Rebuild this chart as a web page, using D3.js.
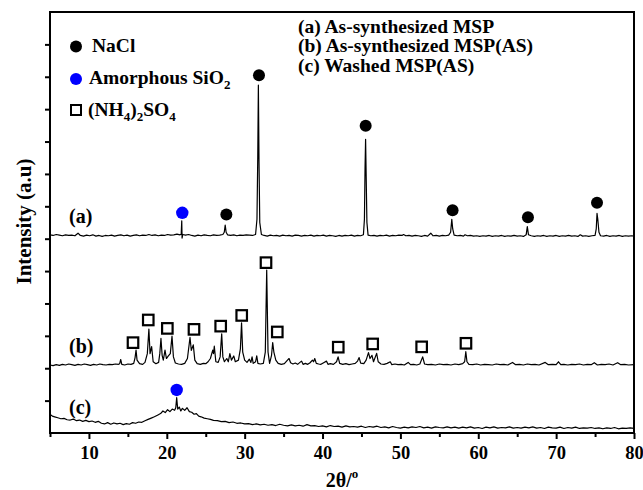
<!DOCTYPE html>
<html><head><meta charset="utf-8">
<script src="https://cdn.jsdelivr.net/npm/d3@7"></script>
<style>body{margin:0;background:#fff}svg text{font-family:"Liberation Serif","Times New Roman",serif;font-weight:bold;fill:#000}</style>
</head><body><svg id="chart" width="643" height="490"></svg>
<script>
// ---------- DATA ----------
const xMajorTicks = [10, 20, 30, 40, 50, 60, 70, 80];
const xMinorTicks = [5, 15, 25, 35, 45, 55, 65, 75];
const yTicks = [1, 2, 3, 4, 5, 6, 7, 8, 9, 10, 11, 12];
const seriesLabels = ["(a)", "(b)", "(c)"];
const sampleNames = ["(a) As-synthesized MSP", "(b) As-synthesized MSP(AS)", "(c) Washed MSP(AS)"];

// (2theta, stacked intensity)
const traceA = [[5.0,6.12],[5.4,6.10],[5.8,6.13],[6.2,6.11],[6.6,6.09],[7.0,6.12],[7.4,6.10],[7.8,6.11],[8.2,6.09],[8.6,6.17],[8.9,6.10],[9.3,6.08],[9.7,6.11],[10.1,6.09],[10.5,6.12],[10.9,6.08],[11.3,6.10],[11.7,6.07],[12.1,6.10],[12.5,6.09],[12.9,6.11],[13.3,6.08],[13.7,6.10],[14.1,6.12],[14.5,6.09],[14.9,6.11],[15.3,6.08],[15.7,6.10],[16.1,6.12],[16.5,6.09],[16.9,6.11],[17.3,6.10],[17.7,6.13],[18.1,6.10],[18.5,6.12],[18.9,6.09],[19.3,6.11],[19.7,6.10],[20.1,6.13],[20.5,6.11],[20.9,6.12],[21.3,6.14],[21.7,6.12],[21.85,6.14],[21.92,6.55],[21.96,6.02],[22.05,6.13],[22.4,6.11],[22.8,6.13],[23.2,6.10],[23.6,6.08],[24.0,6.11],[24.4,6.09],[24.8,6.12],[25.2,6.10],[25.6,6.09],[26.0,6.12],[26.4,6.10],[26.8,6.11],[27.2,6.13],[27.38,6.2],[27.5,6.42],[27.62,6.2],[27.8,6.12],[28.2,6.10],[28.6,6.12],[29.0,6.09],[29.4,6.11],[29.8,6.10],[30.2,6.12],[30.6,6.11],[31.0,6.10],[31.4,6.13],[31.58,6.6],[31.68,8.5],[31.76,10.74],[31.84,8.4],[31.94,6.5],[32.15,6.13],[32.5,6.10],[32.9,6.08],[33.3,6.11],[33.7,6.09],[34.1,6.10],[34.5,6.08],[34.9,6.11],[35.3,6.09],[35.7,6.10],[36.1,6.08],[36.5,6.11],[36.9,6.10],[37.3,6.08],[37.7,6.10],[38.1,6.09],[38.5,6.11],[38.9,6.08],[39.3,6.10],[39.7,6.09],[40.1,6.11],[40.5,6.08],[40.9,6.10],[41.3,6.09],[41.7,6.07],[42.1,6.10],[42.5,6.08],[42.9,6.10],[43.3,6.09],[43.7,6.11],[44.1,6.08],[44.5,6.10],[44.9,6.09],[45.25,6.12],[45.38,6.6],[45.46,8.2],[45.53,9.07],[45.6,8.0],[45.7,6.5],[45.85,6.11],[46.2,6.09],[46.6,6.10],[47.0,6.08],[47.4,6.10],[47.8,6.09],[48.2,6.11],[48.6,6.08],[49.0,6.10],[49.4,6.09],[49.8,6.11],[50.2,6.10],[50.4,6.13],[50.7,6.09],[51.1,6.10],[51.5,6.08],[51.9,6.10],[52.3,6.09],[52.7,6.07],[53.1,6.10],[53.5,6.08],[53.9,6.17],[54.2,6.09],[54.6,6.10],[55.0,6.08],[55.4,6.10],[55.8,6.09],[56.2,6.11],[56.45,6.2],[56.6,6.6],[56.72,6.3],[56.9,6.11],[57.3,6.09],[57.7,6.10],[58.1,6.08],[58.3,6.12],[58.6,6.09],[59.0,6.10],[59.4,6.08],[59.8,6.09],[60.2,6.07],[60.6,6.09],[61.0,6.08],[61.4,6.10],[61.8,6.07],[62.2,6.09],[62.6,6.08],[63.0,6.10],[63.4,6.07],[63.8,6.09],[64.2,6.08],[64.6,6.10],[65.0,6.08],[65.4,6.09],[65.8,6.07],[66.15,6.12],[66.3,6.37],[66.45,6.12],[66.8,6.09],[67.2,6.07],[67.6,6.09],[68.0,6.08],[68.4,6.10],[68.8,6.07],[69.2,6.09],[69.6,6.08],[70.0,6.10],[70.4,6.07],[70.8,6.09],[71.2,6.08],[71.6,6.10],[72.0,6.08],[72.4,6.09],[72.8,6.07],[73.1,6.12],[73.4,6.08],[73.8,6.09],[74.2,6.07],[74.6,6.09],[75.0,6.10],[75.15,6.3],[75.25,6.78],[75.35,6.6],[75.5,6.2],[75.7,6.09],[76.1,6.08],[76.5,6.10],[76.9,6.07],[77.3,6.09],[77.7,6.08],[78.1,6.10],[78.5,6.07],[78.9,6.09],[79.3,6.08],[79.7,6.09],[80.0,6.08]];

const traceB = [[5.0,2.10],[5.4,2.08],[5.8,2.11],[6.2,2.09],[6.6,2.12],[7.0,2.10],[7.4,2.13],[7.8,2.11],[8.2,2.09],[8.6,2.12],[9.0,2.10],[9.4,2.13],[9.8,2.11],[10.2,2.09],[10.6,2.12],[11.0,2.10],[11.4,2.13],[11.8,2.11],[12.2,2.10],[12.6,2.12],[13.0,2.11],[13.4,2.13],[13.8,2.12],[13.95,2.14],[14.08,2.27],[14.22,2.12],[14.6,2.10],[15.0,2.13],[15.4,2.12],[15.75,2.15],[15.92,2.32],[16.05,2.56],[16.18,2.25],[16.5,2.14],[16.9,2.12],[17.2,2.18],[17.5,2.45],[17.7,3.21],[17.85,2.45],[18.05,2.67],[18.25,2.2],[18.6,2.14],[18.95,2.18],[19.1,2.45],[19.25,2.92],[19.4,2.4],[19.55,2.25],[19.77,2.56],[19.95,2.30],[20.2,2.38],[20.45,2.45],[20.67,2.99],[20.85,2.35],[21.1,2.16],[21.5,2.13],[21.9,2.12],[22.3,2.15],[22.65,2.3],[22.98,2.95],[23.15,2.55],[23.4,2.72],[23.6,2.25],[23.9,2.14],[24.3,2.12],[24.7,2.15],[25.0,2.14],[25.3,2.2],[25.6,2.3],[25.9,2.56],[26.0,2.45],[26.1,2.68],[26.3,2.2],[26.6,2.18],[26.85,2.35],[27.05,3.06],[27.2,2.35],[27.4,2.2],[27.7,2.3],[27.9,2.2],[28.1,2.45],[28.3,2.25],[28.6,2.38],[28.8,2.2],[29.2,2.25],[29.45,2.6],[29.6,3.4],[29.75,2.5],[30.0,2.25],[30.3,2.18],[30.6,2.28],[30.8,2.18],[30.95,2.35],[31.1,2.15],[31.4,2.2],[31.55,2.38],[31.7,2.15],[32.0,2.13],[32.4,2.15],[32.65,2.5],[32.83,5.03],[33.0,2.5],[33.2,2.15],[33.45,2.4],[33.6,2.79],[33.75,2.5],[34.0,2.25],[34.3,2.15],[34.7,2.12],[35.1,2.14],[35.5,2.25],[35.7,2.3],[35.9,2.17],[36.2,2.13],[36.5,2.16],[36.8,2.12],[37.1,2.18],[37.3,2.22],[37.5,2.12],[37.8,2.15],[38.1,2.12],[38.4,2.17],[38.7,2.25],[38.85,2.2],[39.0,2.3],[39.2,2.15],[39.5,2.13],[39.8,2.12],[40.2,2.18],[40.5,2.22],[40.7,2.12],[41.0,2.14],[41.4,2.12],[41.8,2.2],[42.0,2.35],[42.2,2.15],[42.6,2.12],[43.0,2.14],[43.4,2.11],[43.8,2.13],[44.2,2.15],[44.5,2.22],[44.7,2.33],[44.9,2.16],[45.3,2.14],[45.6,2.25],[45.9,2.48],[46.1,2.3],[46.35,2.4],[46.55,2.2],[46.95,2.46],[47.15,2.2],[47.5,2.13],[47.9,2.12],[48.3,2.15],[48.7,2.2],[48.9,2.11],[49.3,2.13],[49.7,2.11],[50.1,2.12],[50.5,2.10],[51.0,2.18],[51.3,2.11],[51.7,2.12],[52.1,2.10],[52.5,2.13],[52.86,2.35],[53.1,2.13],[53.5,2.11],[54.0,2.12],[54.5,2.10],[55.0,2.13],[55.5,2.11],[56.0,2.12],[56.5,2.10],[57.0,2.13],[57.5,2.11],[58.0,2.14],[58.25,2.2],[58.4,2.51],[58.55,2.2],[58.8,2.12],[59.3,2.11],[59.8,2.13],[60.3,2.10],[60.8,2.12],[61.3,2.11],[61.8,2.10],[62.3,2.13],[62.8,2.11],[63.3,2.12],[63.8,2.10],[64.4,2.18],[64.8,2.11],[65.3,2.12],[65.8,2.10],[66.3,2.13],[66.8,2.11],[67.3,2.12],[67.8,2.10],[68.6,2.18],[69.0,2.11],[69.5,2.12],[70.0,2.11],[70.3,2.20],[70.6,2.11],[71.0,2.12],[71.5,2.10],[72.0,2.12],[72.5,2.11],[73.0,2.13],[73.5,2.10],[74.0,2.12],[74.5,2.11],[74.9,2.17],[75.3,2.10],[75.8,2.12],[76.3,2.11],[76.8,2.13],[77.3,2.10],[77.9,2.17],[78.3,2.11],[78.8,2.12],[79.3,2.10],[80.0,2.11]];

const traceC = [[5.0,0.58],[5.3,0.52],[5.6,0.50],[6.0,0.47],[6.4,0.44],[6.8,0.45],[7.2,0.41],[7.6,0.40],[8.0,0.43],[8.4,0.38],[8.8,0.40],[9.2,0.36],[9.6,0.39],[10.0,0.35],[10.4,0.37],[10.8,0.33],[11.2,0.36],[11.6,0.30],[12.0,0.28],[12.4,0.32],[12.8,0.27],[13.2,0.31],[13.6,0.28],[14.0,0.30],[14.4,0.26],[14.8,0.29],[15.2,0.27],[15.6,0.32],[16.0,0.30],[16.4,0.34],[16.8,0.33],[17.2,0.38],[17.6,0.42],[18.0,0.46],[18.4,0.50],[18.8,0.55],[19.2,0.60],[19.5,0.68],[19.8,0.63],[20.1,0.72],[20.4,0.66],[20.7,0.74],[21.0,0.70],[21.15,0.78],[21.27,1.09],[21.4,0.74],[21.6,0.80],[21.8,0.68],[22.0,0.76],[22.3,0.70],[22.6,0.78],[22.9,0.66],[23.2,0.64],[23.5,0.58],[23.8,0.60],[24.1,0.52],[24.4,0.50],[24.8,0.46],[25.2,0.44],[25.6,0.42],[26.0,0.39],[26.5,0.38],[27.0,0.35],[27.5,0.36],[28.0,0.32],[28.5,0.34],[29.0,0.30],[29.5,0.31],[30.0,0.28],[30.5,0.29],[31.0,0.26],[31.5,0.28],[32.0,0.25],[32.5,0.27],[33.0,0.24],[33.5,0.26],[34.0,0.23],[34.5,0.27],[35.0,0.24],[35.5,0.22],[36.0,0.25],[36.5,0.22],[37.0,0.24],[37.5,0.21],[38.0,0.26],[38.5,0.22],[39.0,0.23],[39.5,0.20],[40.0,0.22],[40.5,0.19],[41.0,0.23],[41.5,0.20],[42.0,0.21],[42.5,0.18],[43.0,0.22],[43.5,0.19],[44.0,0.20],[44.5,0.18],[45.0,0.21],[45.5,0.17],[46.0,0.20],[46.5,0.18],[47.0,0.21],[47.5,0.17],[48.0,0.19],[48.5,0.16],[49.0,0.20],[49.5,0.17],[50.0,0.15],[50.5,0.18],[51.0,0.16],[51.5,0.19],[52.0,0.17],[52.5,0.20],[53.0,0.16],[53.5,0.18],[54.0,0.15],[54.5,0.19],[55.0,0.17],[55.5,0.16],[56.0,0.19],[56.5,0.16],[57.0,0.18],[57.5,0.15],[58.0,0.18],[58.5,0.16],[59.0,0.19],[59.5,0.15],[60.0,0.17],[60.5,0.14],[61.0,0.18],[61.5,0.16],[62.0,0.19],[62.5,0.15],[63.0,0.17],[63.5,0.16],[64.0,0.19],[64.5,0.15],[65.0,0.17],[65.5,0.15],[66.0,0.18],[66.5,0.16],[67.0,0.19],[67.5,0.15],[68.0,0.17],[68.5,0.14],[69.0,0.18],[69.5,0.16],[70.0,0.15],[70.5,0.18],[71.0,0.14],[71.5,0.17],[72.0,0.15],[72.5,0.18],[73.0,0.14],[73.5,0.16],[74.0,0.15],[74.5,0.17],[75.0,0.14],[75.5,0.16],[76.0,0.13],[76.5,0.16],[77.0,0.14],[77.5,0.17],[78.0,0.13],[78.5,0.15],[79.0,0.14],[79.5,0.16],[80.0,0.14]];

// phase markers (2theta, stacked intensity)
const naclMarkers = [[27.65,6.75],[31.84,11.05],[45.54,9.49],[56.7,6.88],[66.38,6.66],[75.25,7.11]];
const sio2Markers = [[21.99,6.80],[21.27,1.33]];
const nh4Markers = [[15.66,2.79],[17.62,3.49],[20.07,3.23],[23.49,3.20],[26.92,3.30],[29.62,3.63],[32.74,5.26],[34.19,3.12],[42.02,2.65],[46.44,2.75],[52.73,2.66],[58.42,2.77]];

// ---------- CHART ----------
const svg = d3.select("#chart");
const x = d3.scaleLinear().domain([5, 80]).range([50, 634]);
const y = d3.scaleLinear().domain([0, 13]).range([433, 12]);
const FONT = '"Liberation Serif","Times New Roman",serif';

// axes
const gx = svg.append("g").attr("transform", "translate(0,433)")
  .call(d3.axisBottom(x).tickValues(xMajorTicks).tickSize(6).tickPadding(7).tickFormat(d3.format("d")));
gx.select(".domain").remove();
gx.selectAll("line").attr("stroke", "#000").attr("stroke-width", 2);
gx.selectAll("text").attr("font-size", 18.5).attr("font-family", FONT).attr("font-weight", "bold");
const gxm = svg.append("g").attr("transform", "translate(0,433)")
  .call(d3.axisBottom(x).tickValues(xMinorTicks).tickSize(4).tickFormat(""));
gxm.select(".domain").remove();
gxm.selectAll("line").attr("stroke", "#000").attr("stroke-width", 2);

const gy = svg.append("g").attr("transform", "translate(50,0)")
  .call(d3.axisLeft(y).tickValues(yTicks).tickSize(5).tickFormat(""));
gy.select(".domain").remove();
gy.selectAll("line").attr("stroke", "#000").attr("stroke-width", 2);

// frame
svg.append("rect").attr("x", x(5)).attr("y", y(13)).attr("width", x(80) - x(5)).attr("height", y(0) - y(13))
  .attr("fill", "none").attr("stroke", "#000").attr("stroke-width", 2);

// traces
const line = d3.line().x(d => x(d[0])).y(d => y(d[1]));
[traceA, traceB, traceC].forEach(tr => {
  svg.append("path").datum(tr).attr("d", line).attr("fill", "none")
    .attr("stroke", "#000").attr("stroke-width", 1.2).attr("stroke-linejoin", "round");
});

// markers
svg.selectAll("circle.nacl").data(naclMarkers).join("circle").attr("class", "nacl")
  .attr("cx", d => x(d[0])).attr("cy", d => y(d[1])).attr("r", 6).attr("fill", "#000");
svg.selectAll("circle.sio2").data(sio2Markers).join("circle").attr("class", "sio2")
  .attr("cx", d => x(d[0])).attr("cy", d => y(d[1])).attr("r", 6.2).attr("fill", "#0000ff");
const SQ = 10.5;
svg.selectAll("rect.nh4").data(nh4Markers).join("rect").attr("class", "nh4")
  .attr("x", d => x(d[0]) - SQ / 2).attr("y", d => y(d[1]) - SQ / 2).attr("width", SQ).attr("height", SQ)
  .attr("fill", "#fff").attr("stroke", "#000").attr("stroke-width", 2.2);

// series labels
const labelPos = [[69, 223], [69, 353], [69, 414]];
seriesLabels.forEach((s, i) => {
  svg.append("text").attr("x", labelPos[i][0]).attr("y", labelPos[i][1]).attr("font-size", 20).text(s);
});

// phase legend (top-left)
svg.append("circle").attr("cx", 76).attr("cy", 46.5).attr("r", 6).attr("fill", "#000");
svg.append("text").attr("x", 92).attr("y", 52).attr("font-size", 19.5).text("NaCl");
svg.append("circle").attr("cx", 76).attr("cy", 79).attr("r", 6).attr("fill", "#0000ff");
const t2 = svg.append("text").attr("x", 89).attr("y", 83.5).attr("font-size", 19.5);
t2.append("tspan").text("Amorphous SiO");
t2.append("tspan").attr("font-size", 13).attr("dy", 5).text("2");
svg.append("rect").attr("x", 76 - 5).attr("y", 110 - 5).attr("width", 10).attr("height", 10)
  .attr("fill", "#fff").attr("stroke", "#000").attr("stroke-width", 2);
const t3 = svg.append("text").attr("x", 88).attr("y", 116).attr("font-size", 19.5);
t3.append("tspan").text("(NH");
t3.append("tspan").attr("font-size", 13).attr("dy", 5).text("4");
t3.append("tspan").attr("dy", -5).text(")");
t3.append("tspan").attr("font-size", 13).attr("dy", 5).text("2");
t3.append("tspan").attr("dy", -5).text("SO");
t3.append("tspan").attr("font-size", 13).attr("dy", 5).text("4");

// sample legend (top-right)
sampleNames.forEach((s, i) => {
  svg.append("text").attr("x", 298).attr("y", 33 + i * 19.3).attr("font-size", 19.5).text(s);
});

// axis titles
svg.append("text").attr("transform", "translate(31,221.5) rotate(-90)").attr("text-anchor", "middle")
  .attr("font-size", 21).text("Intensity (a.u)");
const xt = svg.append("text").attr("x", 342).attr("y", 487).attr("text-anchor", "middle").attr("font-size", 20);
xt.append("tspan").text("2θ/");
xt.append("tspan").attr("font-size", 13).attr("dy", -9).text("o");
</script></body></html>
